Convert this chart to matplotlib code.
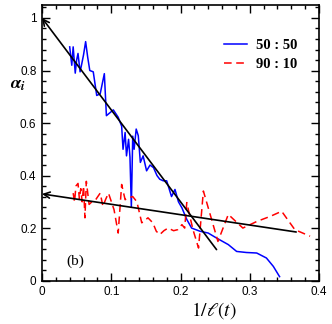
import matplotlib
matplotlib.use("Agg")
import matplotlib.pyplot as plt
from matplotlib.ticker import MultipleLocator

plt.rcParams['font.family'] = ['Liberation Sans', 'DejaVu Sans']
plt.rcParams['mathtext.fontset'] = 'stix'

# 50:50 quench (blue, solid)
x_5050 = [0.040, 0.043, 0.045, 0.048, 0.050, 0.052, 0.055, 0.057, 0.060, 0.063,
          0.066, 0.069, 0.074, 0.079, 0.084, 0.090, 0.093, 0.103, 0.110, 0.115,
          0.117, 0.120, 0.122, 0.125, 0.127, 0.129, 0.131, 0.133, 0.136, 0.139,
          0.142, 0.146, 0.151, 0.156, 0.161, 0.166, 0.170, 0.175, 0.180, 0.187,
          0.192, 0.197, 0.202, 0.209, 0.216, 0.228, 0.240, 0.252, 0.269, 0.281,
          0.295, 0.310, 0.324, 0.334, 0.343]
a_5050 = [0.89, 0.82, 0.89, 0.79, 0.84, 0.865, 0.795, 0.82, 0.86, 0.91,
          0.85, 0.80, 0.795, 0.705, 0.711, 0.788, 0.628, 0.65, 0.622, 0.588,
          0.50, 0.564, 0.475, 0.538, 0.47, 0.28, 0.55, 0.50, 0.577, 0.552,
          0.45, 0.475, 0.418, 0.44, 0.43, 0.40, 0.386, 0.38, 0.38, 0.32,
          0.347, 0.30, 0.277, 0.233, 0.20, 0.188, 0.181, 0.162, 0.137, 0.111,
          0.107, 0.105, 0.086, 0.054, 0.015]

# 90:10 quench (red, dashed)
x_9010 = [0.045, 0.047, 0.049, 0.052, 0.054, 0.056, 0.058, 0.060, 0.062, 0.064,
          0.068, 0.072, 0.078, 0.084, 0.088, 0.092, 0.096, 0.104, 0.110, 0.115,
          0.120, 0.125, 0.131, 0.137, 0.144, 0.153, 0.160, 0.165, 0.170, 0.176,
          0.182, 0.190, 0.196, 0.202, 0.206, 0.209, 0.213, 0.218, 0.226, 0.233,
          0.243, 0.254, 0.269, 0.290, 0.310, 0.330, 0.346, 0.365, 0.387]
a_9010 = [0.333, 0.30, 0.36, 0.37, 0.31, 0.35, 0.30, 0.36, 0.239, 0.378,
          0.29, 0.30, 0.31, 0.333, 0.283, 0.31, 0.333, 0.27, 0.181, 0.366,
          0.308, 0.315, 0.32, 0.30, 0.22, 0.239, 0.22, 0.188, 0.175, 0.19,
          0.20, 0.19, 0.194, 0.213, 0.20, 0.297, 0.25, 0.194, 0.124, 0.341,
          0.25, 0.149, 0.252, 0.20, 0.225, 0.245, 0.264, 0.194, 0.169]

# linear extrapolations: (intercept, slope, end of line)
fits = [(1.0, -3.50, 0.252), (0.33, -0.395, 0.367)]

xticks = [0, 0.1, 0.2, 0.3, 0.4]
xticklabels = ['0', '0.1', '0.2', '0.3', '0.4']
yticks = [0, 0.2, 0.4, 0.6, 0.8, 1.0]
yticklabels = ['0', '0.2', '0.4', '0.6', '0.8', '1']

fig = plt.figure(figsize=(3.32, 3.24), dpi=100)
ax = fig.add_axes([0.1265, 0.134, 0.8345, 0.851])

ax.plot(x_5050, a_5050, color='blue', lw=1.1, label='50 : 50')
ax.plot(x_9010, a_9010, color='red', lw=1.1, ls=(0, (5, 3)), label='90 : 10')

for a0, s, xe in fits:
    ax.annotate('', xy=(0, a0), xytext=(xe, a0 + s * xe),
                arrowprops=dict(arrowstyle='->', color='black', lw=1.2,
                                shrinkA=0, shrinkB=0, mutation_scale=11))

ax.set_xlim(0, 0.4)
ax.set_ylim(0, 1.05)
ax.set_xticks(xticks)
ax.set_xticklabels(xticklabels)
ax.set_yticks(yticks)
ax.set_yticklabels(yticklabels)
ax.xaxis.set_minor_locator(MultipleLocator(0.02))
ax.yaxis.set_minor_locator(MultipleLocator(0.04))
ax.tick_params(which='both', direction='in', top=True, right=True, labelsize=8.5, pad=4)
ax.tick_params(which='major', length=6, width=1)
ax.tick_params(which='minor', length=3, width=1)
for sp in ax.spines.values():
    sp.set_linewidth(1.2)

ax.set_xlabel(r'$1/\ell(t)$', fontsize=14, labelpad=0)
ax.xaxis.set_label_coords(0.62, -0.07)
ax.set_ylabel(r'$\mathbfit{\alpha}_\mathbfit{i}$', fontsize=13, rotation=0)
ax.yaxis.set_label_coords(-0.085, 0.68)

ax.text(0.035, 0.06, '(b)', fontsize=11, family='Liberation Serif')

leg = ax.legend(loc='upper right', bbox_to_anchor=(0.97, 0.925), frameon=False,
                handlelength=1.6, handletextpad=0.6, labelspacing=0.4,
                prop={'family': 'Liberation Serif', 'weight': 'bold', 'size': 10.5})

fig.savefig('out.png', dpi=100)
